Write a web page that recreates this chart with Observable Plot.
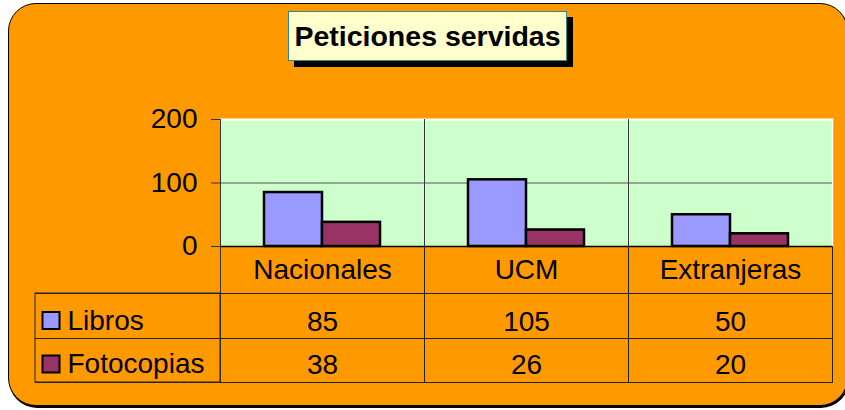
<!DOCTYPE html>
<html><head><meta charset="utf-8">
<script src="https://cdn.jsdelivr.net/npm/d3@7"></script>
<script src="https://cdn.jsdelivr.net/npm/@observablehq/plot@0.6"></script>
<style>
body{margin:0;background:#fff;}
#wrap{position:relative;width:845px;height:410px;overflow:hidden;font-family:"Liberation Sans",Arial,sans-serif;}
#bg{position:absolute;left:8px;top:2.5px;width:838px;height:401px;border:1.5px solid #000;border-radius:28px;background:#FF9900;box-shadow:1px 2px 0 #000;}
#title{position:absolute;left:288px;top:11px;width:277px;height:48px;border:1px solid #2E8B8B;background:#FFFFCC;box-shadow:6px 6px 0 #000;font-weight:bold;font-size:28.5px;display:flex;align-items:center;justify-content:center;color:#000;}
#chart{position:absolute;left:0;top:0;}
</style></head>
<body><div id="wrap"><div id="bg"></div><div id="chart"></div><div id="title"></div></div>
<script>
const title = "Peticiones servidas";
const categories = ["Nacionales", "UCM", "Extranjeras"];
const series = ["Libros", "Fotocopias"];
const libros = [85, 105, 50];
const fotocopias = [38, 26, 20];
const yTicks = [0, 100, 200];
const colors = ["#9999FF", "#993366"];

const seriesValues = [libros, fotocopias];
const data = series.flatMap((s, i) => categories.map((c, j) => ({category: c, series: s, value: seriesValues[i][j]})));
const first = categories[0];
const rowDy = [84, 127];
const keyDy = [74, 117.5];
const fs = 28;

document.getElementById("title").textContent = title;

const chart = Plot.plot({
  width: 845,
  height: 410,
  marginLeft: 220,
  marginRight: 13,
  marginTop: 119,
  marginBottom: 164,
  style: {background: "transparent", fontFamily: "'Liberation Sans', Arial, sans-serif", color: "#000"},
  fx: {domain: categories, padding: 0, axis: null},
  x: {domain: series, paddingInner: 0, paddingOuter: 0.744, axis: null},
  y: {domain: [0, 200]},
  color: {domain: series, range: colors},
  marks: [
    Plot.frame({fill: "#CCFFCC"}),
    Plot.frame({anchor: "top", stroke: "white", strokeWidth: 2}),
    Plot.frame({anchor: "right", stroke: "white", strokeWidth: 1.5}),
    Plot.ruleY(yTicks.filter(t => t > 0 && t < 200), {stroke: "#555"}),
    Plot.frame({anchor: "left", stroke: "#333", insetBottom: -136}),
    Plot.frame({anchor: "right", stroke: "#222", insetTop: 127, insetBottom: -136}),
    Plot.barY(data, {fx: "category", x: "series", y: "value", fill: "series", stroke: "black", strokeWidth: 2.5}),
    Plot.ruleY([0], {stroke: "black", strokeWidth: 1.5}),
    Plot.ruleY([0], {dy: 47, insetLeft: -185, stroke: "#222"}),
    Plot.ruleY([0], {dy: 92, insetLeft: -185, stroke: "#222"}),
    Plot.ruleY([0], {dy: 136, insetLeft: -185, stroke: "#222"}),
    Plot.rect([first], {fx: d => d, insetLeft: -185, insetRight: 204, insetTop: 174, insetBottom: -136, fill: "none", stroke: "#222"}),
    Plot.ruleX([first], {fx: d => d, frameAnchor: "left", stroke: "black", strokeWidth: 1.5, insetBottom: -136}),
    Plot.axisY({ticks: yTicks, tickSize: 9, tickPadding: 14, fontSize: 28, stroke: "#333", label: null}),
    Plot.text(categories, {fx: d => d, text: d => d, frameAnchor: "bottom", lineAnchor: "bottom", dy: 32, fontSize: fs, fill: "black"}),
    ...series.map((s, i) => Plot.text(data.filter(d => d.series === s), {fx: "category", text: "value", frameAnchor: "bottom", lineAnchor: "bottom", dy: rowDy[i], fontSize: fs, fill: "black"})),
    ...series.map((s, i) => Plot.text([{category: first, series: s}], {fx: "category", text: "series", frameAnchor: "bottom-left", textAnchor: "start", lineAnchor: "bottom", dx: -153, dy: rowDy[i] - 1, fontSize: fs, fill: "black"})),
    ...series.map((s, i) => Plot.dot([{category: first, series: s}], {fx: "category", fill: "series", frameAnchor: "bottom-left", dx: -169.5, dy: keyDy[i], symbol: "square", r: 9.6, stroke: "black", strokeWidth: 2}))
  ]
});
document.getElementById("chart").appendChild(chart);
</script>
</body></html>
